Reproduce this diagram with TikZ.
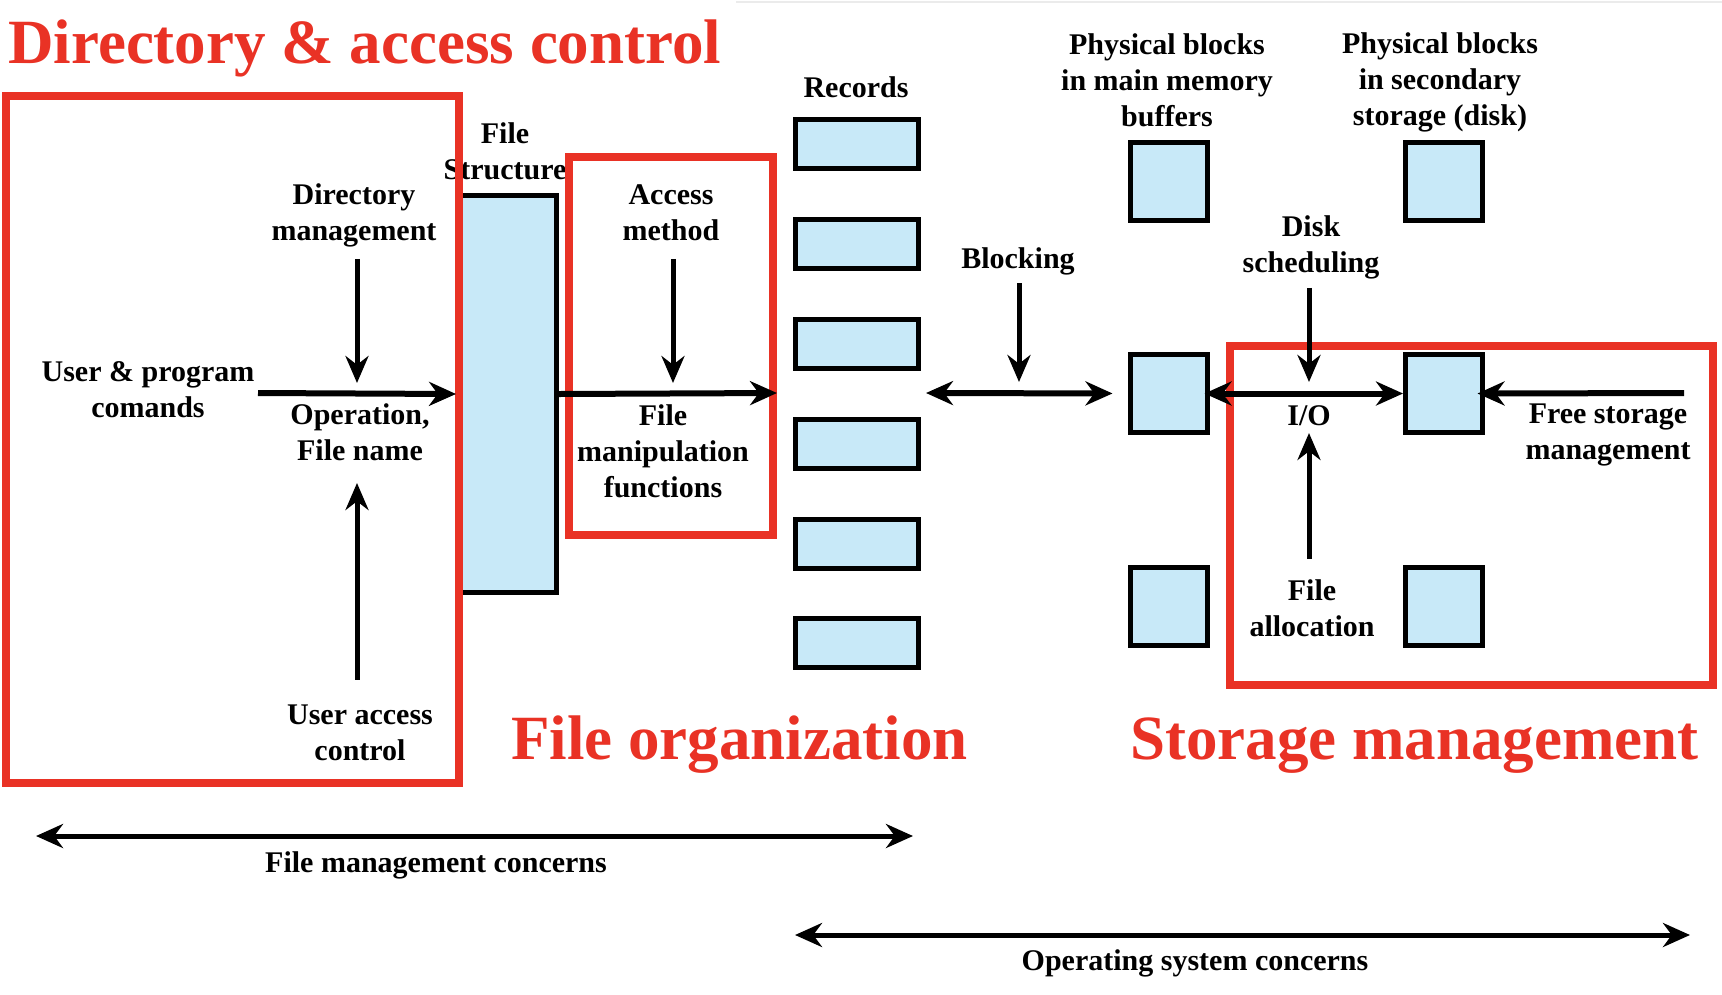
\documentclass[tikz,border=0pt]{standalone}
\usepackage{fontspec}
\setmainfont{Liberation Serif}
\usetikzlibrary{arrows.meta, positioning, calc}
\definecolor{markred}{RGB}{233,50,37}
\definecolor{blockfill}{RGB}{200,233,248}
\tikzset{
  lbl/.style={font=\fontsize{30}{36}\selectfont\bfseries, align=center, inner sep=0pt},
  heading/.style={font=\fontsize{63}{70}\selectfont\bfseries, text=markred, inner sep=0pt, anchor=base west},
  blk/.style={draw=black, line width=5pt, fill=blockfill, inner sep=0pt},
  recbox/.style={blk, minimum width=123pt, minimum height=49pt},
  physbox/.style={blk, minimum width=77pt, minimum height=78pt},
  frame/.style={draw=markred, line width=8pt},
  hflow/.style={line width=6pt, -{Stealth[length=27pt, width=24pt]}},
  vflow/.style={line width=5pt, -{Stealth[length=27pt, width=23pt]}},
  both/.style={line width=6pt, {Stealth[length=27pt, width=24pt]}-{Stealth[length=27pt, width=24pt]}}
}
\begin{document}
\begin{tikzpicture}[x=1pt, y=-1pt]
\useasboundingbox (0,0) rectangle (1722,994);
\draw[line width=2pt, black!8] (736,2) -- (1722,2);

% headings
\node[heading] (hdir) at (8,63) {Directory \& access control};
\node[heading] (horg) at (511,759) {File organization};
\node[heading] (hstor) at (1130,759) {Storage management};

% file structure
\node[blk, minimum width=98pt, minimum height=397pt] (fs) at (507.5,394) {};
\node[lbl] (fslbl) at (505,151.5) {File\\Structure};

% records
\node[lbl, anchor=base] (reclbl) at (856,97) {Records};
\foreach \i/\y in {1/144,2/244,3/344,4/444,5/544,6/643}
  \node[recbox] (rec\i) at (857,\y) {};

% physical blocks
\foreach \r/\y in {top/181.5,mid/393.5,bot/606}{
  \node[physbox] (mem\r) at (1169,\y) {};
  \node[physbox] (disk\r) at (1444,\y) {};
}
\node[lbl] (memlbl) at (1167,80) {Physical blocks\\in main memory\\buffers};
\node[lbl] (disklbl) at (1440,82) {Physical blocks\\in secondary\\storage (disk)};

% labels
\node[lbl] (cmdlbl) at (148,390) {User \& program\\comands};
\node[lbl] (dirlbl) at (354,215.5) {Directory\\management};
\node[lbl] (oplbl) at (360,432.5) {Operation,\\File name};
\node[lbl] (uaclbl) at (360,733) {User access\\control};
\node[lbl] (amlbl) at (671,212.5) {Access\\method};
\node[lbl] (fmlbl) at (663,451) {File\\manipulation\\functions};
\node[lbl, anchor=base] (blklbl) at (1018,268) {Blocking};
\node[lbl] (dslbl) at (1311,247.5) {Disk\\scheduling};
\node[lbl, anchor=base] (iolbl) at (1309,425) {I/O};
\node[lbl] (falbl) at (1312,608.5) {File\\allocation};
\node[lbl] (fsmlbl) at (1608,435) {Free storage\\management};
\node[lbl, anchor=base] (fmclbl) at (436,872) {File management concerns};
\node[lbl, anchor=base] (osclbl) at (1195,970) {Operating system concerns};

% red frames
\draw[frame] (6,96) rectangle (459,783);
\draw[frame] (569,157) rectangle (773,535);
\draw[frame] (1230,346) rectangle (1713,685);

% arrows
\coordinate (cmdin) at (258,393);
\coordinate (fmout) at (777,393);
\coordinate (dirhead) at (357,383);
\coordinate (uachead) at (357,483);
\coordinate (amhead) at (673,383);
\coordinate (blkleft) at (926,393);
\coordinate (blkhead) at (1019,382);
\coordinate (dshead) at (1309,382);
\coordinate (fahead) at (1309,433);
\coordinate (fsmin) at (1684,393);
\draw[hflow] (cmdin) -- (fs.west);
\draw[hflow] (fs.east) -- (fmout);
\draw[vflow, shorten <=11.5pt] (dirlbl.south -| dirhead) -- (dirhead);
\draw[vflow, shorten <=25pt] (uaclbl.north -| uachead) -- (uachead);
\draw[vflow, shorten <=18pt] (amlbl.south -| amhead) -- (amhead);
\draw[both, shorten >=15.5pt] (blkleft) -- (memmid.west);
\draw[vflow, shorten <=8.5pt] (blklbl.south -| blkhead) -- (blkhead);
\draw[both, shorten <=-5.5pt] (memmid.east) -- (diskmid.west);
\draw[vflow, shorten <=8.5pt] (dslbl.south -| dshead) -- (dshead);
\draw[vflow, shorten <=21pt] (falbl.north -| fahead) -- (fahead);
\draw[hflow, shorten >=-7.5pt] (fsmin) -- (diskmid.east);

% concerns
\coordinate (fmcleft) at (36,836);
\coordinate (fmcright) at (913,836);
\coordinate (oscleft) at (795,935);
\coordinate (oscright) at (1690,935);
\draw[both, line width=5pt] (fmcleft) -- (fmcright);
\draw[both, line width=5pt] (oscleft) -- (oscright);
\end{tikzpicture}
\end{document}
